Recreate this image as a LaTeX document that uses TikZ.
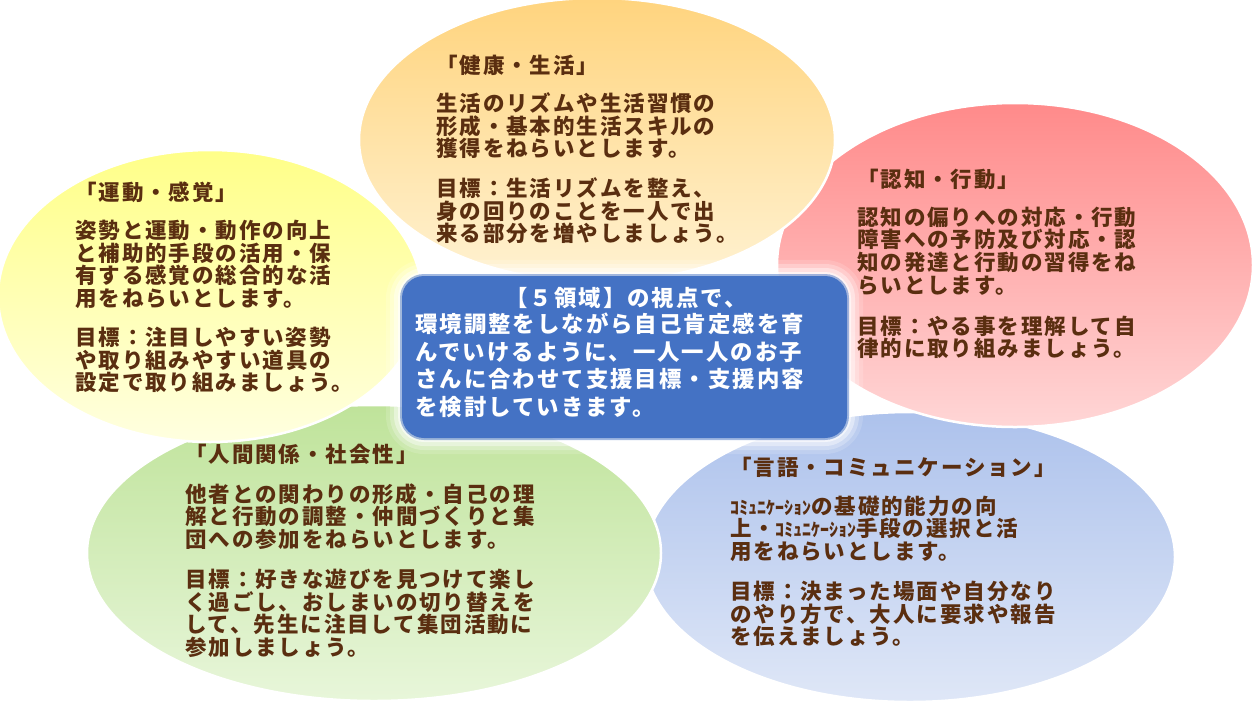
\documentclass[tikz,border=0pt]{standalone}
\usepackage{fontspec}
\usetikzlibrary{shapes.geometric}
\newfontfamily\jp[LetterSpace=9]{Noto Sans CJK JP}
\newfontfamily\jphw{Noto Sans CJK JP}
\definecolor{txtbrown}{HTML}{5A2E10}
\definecolor{boxblue}{HTML}{4472C4}
\definecolor{yelA}{HTML}{FFFF88}
\definecolor{yelB}{HTML}{FFFFE0}
\definecolor{orA}{HTML}{FFD47E}
\definecolor{orB}{HTML}{FFF2D2}
\definecolor{redA}{HTML}{FF8A8A}
\definecolor{redB}{HTML}{FFD6D6}
\definecolor{grnA}{HTML}{BFE39A}
\definecolor{grnB}{HTML}{E8F6DA}
\definecolor{bluA}{HTML}{ADC2EC}
\definecolor{bluB}{HTML}{DFE7F7}
\tikzset{
  blob/.style={ellipse, inner sep=0pt, draw=white, line width=2.5pt, shading angle=45},
  areatext/.style={anchor=north west, inner sep=0pt, align=left, text=txtbrown,
    font=\jp\bfseries\fontsize{21.5}{22.7}\selectfont},
  centertext/.style={inner sep=0pt, align=left, text=white,
    font=\jp\bfseries\fontsize{22.4}{27.5}\selectfont},
}
\newcommand{\hwk}[1]{{\jphw\bfseries\fontsize{18}{22.7}\selectfont #1}}
\begin{document}
\begin{tikzpicture}[x=1pt,y=-1pt]
\useasboundingbox (0,0) rectangle (1253,705);
\fill[white] (0,0) rectangle (1253,705);
% ellipses
\node[blob, minimum width=530pt, minimum height=290pt, top color=bluA, bottom color=bluB] (blu) at (910,557) {};
\node[blob, minimum width=574pt, minimum height=296pt, top color=grnA, bottom color=grnB] (grn) at (374,553) {};
\node[blob, minimum width=424pt, minimum height=292pt, top color=yelA, bottom color=yelB] (yel) at (210,296) {};
\node[blob, minimum width=476pt, minimum height=324pt, top color=redA, bottom color=redB] (red) at (1015,265) {};
\node[blob, minimum width=476pt, minimum height=284pt, top color=orA, bottom color=orB] (org) at (597,140) {};
% center box glow
\foreach \g/\o in {16/0.15,12/0.25,8/0.4,4/0.6}{
  \fill[white, opacity=\o, rounded corners=22pt+\g pt] (402-\g,276-\g) rectangle (847+\g,438+\g);
}
\fill[boxblue, opacity=0.5, rounded corners=24pt] (400,274) rectangle (849,440);
\node[rectangle, rounded corners=22pt, fill=boxblue, minimum width=445pt, minimum height=162pt, inner sep=0pt] (box) at (624.5,357) {};
% texts
\node[areatext] (yeltxt) at (75,182) {「運動・感覚」\\[15pt]
姿勢と運動・動作の向上\\
と補助的手段の活用・保\\
有する感覚の総合的な活\\
用をねらいとします。\\[16pt]
目標：注目しやすい姿勢\\
や取り組みやすい道具の\\
設定で取り組みましょう。};
\node[areatext] (orgtxt) at (436,55) {「健康・生活」\\[15pt]
生活のリズムや生活習慣の\\
形成・基本的生活スキルの\\
獲得をねらいとします。\\[17pt]
目標：生活リズムを整え、\\
身の回りのことを一人で出\\
来る部分を増やしましょう。};
\node[areatext] (redtxt) at (857,169) {「認知・行動」\\[15pt]
認知の偏りへの対応・行動\\
障害への予防及び対応・認\\
知の発達と行動の習得をね\\
らいとします。\\[18pt]
目標：やる事を理解して自\\
律的に取り組みましょう。};
\node[areatext] (grntxt) at (185,444) {「人間関係・社会性」\\[17pt]
他者との関わりの形成・自己の理\\
解と行動の調整・仲間づくりと集\\
団への参加をねらいとします。\\[17pt]
目標：好きな遊びを見つけて楽し\\
く過ごし、おしまいの切り替えを\\
して、先生に注目して集団活動に\\
参加しましょう。};
\node[areatext] (blutxt) at (730,457) {「言語・コミュニケーション」\\[16pt]
\hwk{ｺﾐｭﾆｹｰｼｮﾝ}の基礎的能力の向\\
上・\hwk{ｺﾐｭﾆｹｰｼｮﾝ}手段の選択と活\\
用をねらいとします。\\[17pt]
目標：決まった場面や自分なり\\
のやり方で、大人に要求や報告\\
を伝えましょう。};
\node[centertext] (boxhead) at (626,298) {【５領域】の視点で、};
\node[centertext, anchor=north west] (boxtxt) at (415,313) {環境調整をしながら自己肯定感を育\\
んでいけるように、一人一人のお子\\
さんに合わせて支援目標・支援内容\\
を検討していきます。};
\end{tikzpicture}
\end{document}
